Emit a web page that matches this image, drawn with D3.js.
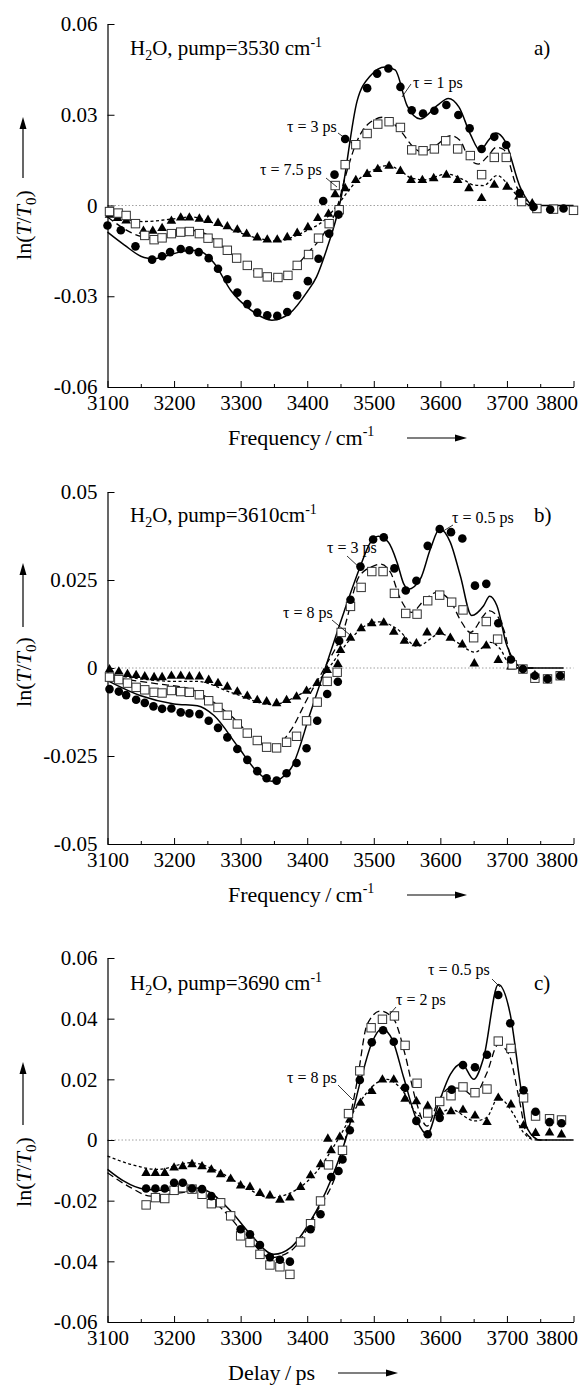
<!DOCTYPE html>
<html>
<head>
<meta charset="utf-8">
<script src="https://cdn.jsdelivr.net/npm/d3@7"></script>
<style>
body { margin: 0; background: #fff; }
svg text { font-family: "Liberation Serif", "Times New Roman", serif; fill: #000; }
</style>
</head>
<body>
<svg id="chart"></svg>
<script>
const WIDTH = 585;
const HEIGHT = 1387;
const X_LEFT = 107.5;
const X_RIGHT = 573.5;

// shared frequency axis
var freqTicks = [3100, 3200, 3300, 3400, 3500, 3600, 3700, 3800];
var freqMinor = [3150, 3250, 3350, 3450, 3550, 3650, 3750];

// ---- panel a) pump 3530 ----
var aTicks = [0.06, 0.03, 0, -0.03, -0.06];
var aTickLabels = ["0.06", "0.03", "0", "-0.03", "-0.06"];
var aCircles = [[3100,-0.0066],[3120,-0.0082],[3142,-0.0135],[3167,-0.0179],[3182,-0.0168],[3194,-0.0154],[3210,-0.0144],[3223,-0.0148],[3237,-0.0154],[3252,-0.0174],[3266,-0.0209],[3280,-0.0244],[3295,-0.0288],[3310,-0.0326],[3325,-0.0354],[3340,-0.0363],[3355,-0.0365],[3370,-0.0352],[3385,-0.0297],[3401,-0.0250],[3417,-0.0176],[3424,0.0015],[3433,-0.0093],[3441,0.0102],[3447,-0.0030],[3457,0.0220],[3490,0.0388],[3505,0.0436],[3522,0.0453],[3540,0.0392],[3557,0.0315],[3574,0.0304],[3591,0.0313],[3609,0.0332],[3627,0.0299],[3644,0.0255],[3662,0.0187],[3681,0.0227],[3699,0.0200],[3719,0.0041],[3740,-0.0005],[3765,-0.0013],[3785,-0.0010]];
var aSquares = [[3103,-0.0020],[3116,-0.0025],[3128,-0.0033],[3142,-0.0060],[3156,-0.0099],[3170,-0.0113],[3182,-0.0107],[3196,-0.0093],[3210,-0.0088],[3223,-0.0086],[3238,-0.0093],[3251,-0.0108],[3266,-0.0124],[3280,-0.0148],[3294,-0.0174],[3310,-0.0198],[3326,-0.0223],[3340,-0.0236],[3356,-0.0238],[3371,-0.0231],[3385,-0.0198],[3402,-0.0162],[3417,-0.0108],[3433,-0.0060],[3442,0.0066],[3448,-0.0014],[3457,0.0135],[3473,0.0201],[3490,0.0238],[3506,0.0269],[3523,0.0277],[3540,0.0258],[3557,0.0184],[3574,0.0181],[3591,0.0187],[3608,0.0214],[3626,0.0187],[3645,0.0165],[3662,0.0102],[3681,0.0159],[3699,0.0159],[3722,0.0013],[3745,-0.0010],[3770,-0.0012],[3800,-0.0016]];
var aTriangles = [[3103,-0.0033],[3115,-0.0044],[3128,-0.0052],[3154,-0.0086],[3168,-0.0086],[3182,-0.0077],[3196,-0.0053],[3210,-0.0042],[3223,-0.0042],[3238,-0.0046],[3251,-0.0050],[3266,-0.0060],[3280,-0.0071],[3295,-0.0082],[3309,-0.0096],[3325,-0.0108],[3340,-0.0115],[3355,-0.0115],[3370,-0.0107],[3385,-0.0093],[3401,-0.0074],[3416,-0.0044],[3432,-0.0030],[3442,0.0035],[3457,0.0055],[3473,0.0082],[3490,0.0102],[3506,0.0118],[3523,0.0129],[3540,0.0112],[3556,0.0082],[3573,0.0082],[3590,0.0088],[3609,0.0099],[3626,0.0082],[3643,0.0055],[3662,0.0022],[3681,0.0066],[3700,0.0060],[3718,0.0027],[3738,0.0005]];
var aFitSolid = [[3100,-0.0088],[3125,-0.0130],[3155,-0.0172],[3170,-0.0176],[3195,-0.0162],[3224,-0.0148],[3240,-0.0152],[3260,-0.0190],[3285,-0.0280],[3315,-0.0345],[3347,-0.0379],[3374,-0.0356],[3400,-0.0285],[3414,-0.0236],[3430,-0.0140],[3444,-0.0039],[3450,0.0016],[3475,0.0346],[3495,0.0429],[3517,0.0458],[3532,0.0448],[3550,0.0330],[3570,0.0286],[3595,0.0330],[3612,0.0354],[3628,0.0325],[3645,0.0236],[3660,0.0181],[3672,0.0215],[3684,0.0240],[3697,0.0214],[3720,0.0060],[3740,0],[3800,0]];
var aFitDash = [[3100,-0.0038],[3150,-0.0102],[3165,-0.0107],[3195,-0.0090],[3225,-0.0082],[3245,-0.0091],[3285,-0.0159],[3315,-0.0209],[3347,-0.0242],[3374,-0.0220],[3400,-0.0159],[3425,-0.0093],[3445,-0.0006],[3457,0.0093],[3475,0.0214],[3492,0.0270],[3515,0.0292],[3540,0.0247],[3560,0.0192],[3572,0.0176],[3595,0.0201],[3615,0.0231],[3630,0.0214],[3642,0.0159],[3657,0.0137],[3672,0.0165],[3684,0.0192],[3695,0.0185],[3715,0.0060],[3740,0]];
var aFitDot = [[3100,-0.0027],[3154,-0.0053],[3200,-0.0044],[3225,-0.0038],[3275,-0.0071],[3320,-0.0105],[3355,-0.0118],[3385,-0.0098],[3400,-0.0082],[3425,-0.0050],[3445,0],[3475,0.0082],[3500,0.0118],[3520,0.0132],[3540,0.0115],[3555,0.0092],[3575,0.0085],[3610,0.0104],[3635,0.0085],[3650,0.0068],[3665,0.0066],[3685,0.0099],[3705,0.0060],[3720,0.0020],[3735,0]];

// ---- panel b) pump 3610 ----
var bTicks = [0.05, 0.025, 0, -0.025, -0.05];
var bTickLabels = ["0.05", "0.025", "0", "-0.025", "-0.05"];
var bCircles = [[3103,-0.0060],[3117,-0.0067],[3128,-0.0077],[3143,-0.0090],[3156,-0.0099],[3169,-0.0109],[3182,-0.0116],[3196,-0.0115],[3210,-0.0126],[3223,-0.0129],[3238,-0.0131],[3252,-0.0150],[3266,-0.0170],[3280,-0.0197],[3295,-0.0230],[3310,-0.0261],[3325,-0.0293],[3339,-0.0313],[3354,-0.0320],[3369,-0.0299],[3384,-0.0270],[3399,-0.0228],[3415,-0.0150],[3430,-0.0074],[3446,-0.0039],[3448,0.0077],[3465,0.0194],[3480,0.0288],[3499,0.0365],[3515,0.0371],[3531,0.0283],[3548,0.0220],[3564,0.0248],[3581,0.0347],[3599,0.0395],[3616,0.0386],[3633,0.0368],[3652,0.0234],[3669,0.0239],[3687,0.0127],[3706,0.0024],[3724,-0.0003],[3742,-0.0022],[3761,-0.0031],[3780,-0.0022]];
var bSquares = [[3103,-0.0026],[3117,-0.0033],[3130,-0.0043],[3143,-0.0055],[3156,-0.0062],[3170,-0.0069],[3182,-0.0071],[3196,-0.0064],[3210,-0.0067],[3223,-0.0069],[3238,-0.0076],[3252,-0.0093],[3266,-0.0112],[3280,-0.0134],[3295,-0.0159],[3310,-0.0185],[3325,-0.0206],[3339,-0.0225],[3354,-0.0227],[3369,-0.0211],[3384,-0.0194],[3399,-0.0150],[3415,-0.0097],[3430,-0.0038],[3445,-0.0012],[3451,0.0101],[3465,0.0175],[3481,0.0229],[3497,0.0274],[3514,0.0274],[3531,0.0212],[3548,0.0155],[3565,0.0153],[3581,0.0191],[3599,0.0207],[3617,0.0187],[3634,0.0165],[3650,0.0086],[3669,0.0132],[3686,0.0082],[3708,0.0009],[3724,-0.0003],[3742,-0.0029],[3761,-0.0031],[3780,-0.0022]];
var bTriangles = [[3103,-0.0006],[3117,-0.0012],[3130,-0.0019],[3143,-0.0022],[3156,-0.0026],[3170,-0.0028],[3182,-0.0028],[3196,-0.0024],[3210,-0.0024],[3223,-0.0026],[3238,-0.0026],[3252,-0.0036],[3266,-0.0045],[3280,-0.0055],[3295,-0.0069],[3310,-0.0081],[3325,-0.0093],[3339,-0.0097],[3354,-0.0102],[3369,-0.0093],[3384,-0.0083],[3399,-0.0067],[3415,-0.0045],[3430,-0.0008],[3446,0.0009],[3450,0.0049],[3465,0.0084],[3481,0.0111],[3497,0.0125],[3515,0.0127],[3530,0.0101],[3546,0.0075],[3564,0.0068],[3580,0.0099],[3599,0.0101],[3615,0.0084],[3633,0.0065],[3651,0.0011],[3669,0.0062],[3687,0.0021],[3706,0.0002],[3742,-0.0022]];
var bFitSolid = [[3100,-0.0036],[3150,-0.0079],[3200,-0.0102],[3235,-0.0107],[3260,-0.0135],[3295,-0.0221],[3325,-0.0295],[3347,-0.0322],[3375,-0.0287],[3405,-0.0126],[3425,-0.0012],[3455,0.0158],[3480,0.0290],[3495,0.0357],[3507,0.0374],[3522,0.0357],[3535,0.0300],[3545,0.0239],[3552,0.0224],[3570,0.0253],[3585,0.0338],[3599,0.0395],[3615,0.0357],[3630,0.0262],[3647,0.0149],[3665,0.0177],[3674,0.0204],[3685,0.0177],[3700,0.0063],[3725,0],[3785,0]];
var bFitDash = [[3100,-0.0026],[3175,-0.0045],[3225,-0.0060],[3285,-0.0135],[3335,-0.0221],[3347,-0.0225],[3375,-0.0178],[3400,-0.0088],[3425,-0.0003],[3455,0.0110],[3478,0.0260],[3500,0.0290],[3510,0.0295],[3525,0.0272],[3540,0.0196],[3557,0.0158],[3575,0.0191],[3595,0.0215],[3615,0.0190],[3632,0.0130],[3645,0.0101],[3665,0.0149],[3672,0.0163],[3685,0.0149],[3695,0.0110],[3712,0],[3740,0]];
var bFitDot = [[3100,-0.0017],[3150,-0.0031],[3200,-0.0038],[3235,-0.0038],[3285,-0.0069],[3347,-0.0104],[3385,-0.0079],[3415,-0.0041],[3435,0.0007],[3465,0.0082],[3500,0.0130],[3510,0.0131],[3535,0.0111],[3565,0.0062],[3600,0.0097],[3625,0.0073],[3652,0.0045],[3675,0.0073],[3690,0.0054],[3705,0.0007],[3720,0]];

// ---- panel c) pump 3690 ----
var cTicks = [0.06, 0.04, 0.02, 0, -0.02, -0.04, -0.06];
var cTickLabels = ["0.06", "0.04", "0.02", "0", "-0.02", "-0.04", "-0.06"];
var cCircles = [[3158,-0.0160],[3172,-0.0160],[3186,-0.0160],[3200,-0.0141],[3213,-0.0141],[3227,-0.0160],[3242,-0.0162],[3256,-0.0185],[3300,-0.0294],[3314,-0.0311],[3329,-0.0346],[3344,-0.0386],[3359,-0.0395],[3374,-0.0401],[3405,-0.0294],[3420,-0.0245],[3436,-0.0122],[3447,-0.0102],[3453,-0.0064],[3464,0.0032],[3479,0.0198],[3497,0.0322],[3514,0.0362],[3530,0.0324],[3547,0.0172],[3564,0.0063],[3581,0.0019],[3599,0.0073],[3617,0.0166],[3634,0.0247],[3652,0.0240],[3670,0.0281],[3687,0.0478],[3705,0.0385],[3725,0.0164],[3743,0.0093],[3764,0.0059],[3782,0.0055]];
var cSquares = [[3158,-0.0214],[3172,-0.0190],[3186,-0.0193],[3200,-0.0166],[3213,-0.0157],[3227,-0.0162],[3242,-0.0179],[3256,-0.0210],[3270,-0.0207],[3285,-0.0250],[3300,-0.0316],[3314,-0.0338],[3329,-0.0377],[3344,-0.0412],[3359,-0.0418],[3374,-0.0443],[3390,-0.0336],[3405,-0.0276],[3420,-0.0201],[3432,-0.0082],[3453,-0.0034],[3462,0.0087],[3479,0.0228],[3496,0.0370],[3513,0.0398],[3531,0.0409],[3547,0.0312],[3565,0.0187],[3581,0.0089],[3599,0.0127],[3616,0.0146],[3634,0.0175],[3652,0.0156],[3670,0.0168],[3687,0.0326],[3706,0.0302],[3725,0.0139],[3743,0.0079],[3764,0.0070],[3782,0.0066]];
var cTriangles = [[3158,-0.0111],[3172,-0.0111],[3186,-0.0111],[3200,-0.0093],[3213,-0.0089],[3227,-0.0082],[3242,-0.0089],[3256,-0.0100],[3270,-0.0115],[3285,-0.0130],[3300,-0.0152],[3314,-0.0157],[3329,-0.0177],[3344,-0.0185],[3359,-0.0199],[3374,-0.0192],[3390,-0.0157],[3405,-0.0119],[3420,-0.0082],[3431,0.0002],[3436,-0.0036],[3449,0.0008],[3464,0.0065],[3480,0.0120],[3497,0.0159],[3513,0.0197],[3530,0.0197],[3547,0.0134],[3564,0.0125],[3581,0.0110],[3599,0.0091],[3616,0.0092],[3634,0.0097],[3652,0.0078],[3670,0.0057],[3687,0.0137],[3706,0.0115],[3725,0.0046],[3743,0.0021],[3764,0.0022],[3782,0.0016]];
var cFitSolid = [[3100,-0.0097],[3124,-0.0135],[3155,-0.0162],[3200,-0.0166],[3225,-0.0157],[3250,-0.0168],[3285,-0.0234],[3315,-0.0311],[3350,-0.0377],[3375,-0.0355],[3405,-0.0267],[3435,-0.0135],[3460,0.0019],[3480,0.0194],[3497,0.0320],[3512,0.0367],[3528,0.0330],[3545,0.0205],[3565,0.0063],[3580,0.0019],[3597,0.0118],[3615,0.0216],[3632,0.0252],[3650,0.0200],[3665,0.0271],[3687,0.0513],[3705,0.0414],[3720,0.0184],[3730,0.0040],[3750,0],[3800,0]];
var cFitDash = [[3100,-0.0108],[3135,-0.0157],[3165,-0.0185],[3200,-0.0177],[3235,-0.0168],[3275,-0.0234],[3315,-0.0333],[3345,-0.0388],[3375,-0.0366],[3415,-0.0234],[3445,-0.0102],[3475,0.0194],[3490,0.0381],[3510,0.0425],[3530,0.0398],[3547,0.0282],[3562,0.0140],[3580,0.0046],[3597,0.0129],[3615,0.0172],[3632,0.0170],[3650,0.0145],[3670,0.0222],[3687,0.0315],[3703,0.0282],[3718,0.0139],[3730,0.0019],[3745,0],[3760,0]];
var cFitDot = [[3100,-0.0053],[3135,-0.0080],[3175,-0.0097],[3225,-0.0075],[3265,-0.0102],[3300,-0.0146],[3345,-0.0190],[3385,-0.0162],[3415,-0.0102],[3445,-0.0003],[3475,0.0112],[3505,0.0189],[3520,0.0200],[3540,0.0172],[3570,0.0079],[3590,0.0080],[3615,0.0101],[3652,0.0063],[3670,0.0075],[3687,0.0139],[3710,0.0085],[3725,0.0024],[3740,0]];

var panels = [
    { top: 24, bottom: 387, domain: [-0.06, 0.06], ticks: aTicks, labels: aTickLabels,
      pump: "3530 ", letter: "a)", titleY: 55, xTitle: "Frequency\u2009/\u2009cm", xSup: true,
      xArrow: [407, 467], yMid: 225, yArrow: [178, 117],
      circles: aCircles, squares: aSquares, triangles: aTriangles,
      fits: [aFitDot, aFitDash, aFitSolid],
      notes: [["\u03c4 = 1 ps", 413, 88, [411, 84, 402, 97]],
              ["\u03c4 = 3 ps", 287, 132, [338, 133, 352, 143]],
              ["\u03c4 = 7.5 ps", 260, 175, [326, 178, 337, 187]]] },
    { top: 492, bottom: 844, domain: [-0.05, 0.05], ticks: bTicks, labels: bTickLabels,
      pump: "3610", letter: "b)", titleY: 522, xTitle: "Frequency\u2009/\u2009cm", xSup: true,
      xArrow: [407, 467], yMid: 672, yArrow: [627, 563],
      circles: bCircles, squares: bSquares, triangles: bTriangles,
      fits: [bFitDot, bFitDash, bFitSolid],
      notes: [["\u03c4 = 0.5 ps", 452, 523, [453, 525, 440, 533]],
              ["\u03c4 = 3 ps", 327, 553, [347, 556, 360, 568]],
              ["\u03c4 = 8 ps", 283, 618, [332, 620, 350, 635]]] },
    { top: 958, bottom: 1322, domain: [-0.06, 0.06], ticks: cTicks, labels: cTickLabels,
      pump: "3690 ", letter: "c)", titleY: 990, xTitle: "Delay\u2009/\u2009ps", xSup: false,
      xArrow: [338, 398], yMid: 1172, yArrow: [1125, 1062],
      circles: cCircles, squares: cSquares, triangles: cTriangles,
      fits: [cFitDot, cFitDash, cFitSolid],
      notes: [["\u03c4 = 0.5 ps", 428, 975, [492, 979, 500, 987]],
              ["\u03c4 = 2 ps", 396, 1005, [396, 1007, 390, 1014]],
              ["\u03c4 = 8 ps", 287, 1083, [338, 1085, 353, 1100]]] }
];

var fitStyles = [
    { dash: "3,2.5", width: 1.3 },
    { dash: "7,4", width: 1.3 },
    { dash: null, width: 1.5 }
];

var _svg = d3.select('#chart')
    .attr('width', WIDTH)
    .attr('height', HEIGHT);

var x = d3.scaleLinear()
    .domain([3100, 3800])
    .range([X_LEFT, X_RIGHT]);

var arrowHead = function (g, pts) {
    g.append('path')
        .attr('d', 'M' + pts.join('L') + 'Z')
        .attr('fill', '#000');
};

var drawPanel = function (p) {
    var y = d3.scaleLinear().domain(p.domain).range([p.bottom, p.top]);
    var g = _svg.append('g');

    // zero reference
    g.append('line')
        .attr('x1', X_LEFT).attr('x2', X_RIGHT)
        .attr('y1', y(0)).attr('y2', y(0))
        .attr('stroke', '#888').attr('stroke-width', 0.8)
        .attr('stroke-dasharray', '1.5,2');

    // axes
    var yAxis = g.append('g')
        .attr('transform', 'translate(' + X_LEFT + ',0)')
        .call(d3.axisLeft(y).tickValues(p.ticks)
            .tickFormat(function (d, i) { return p.labels[i]; })
            .tickSizeInner(-7).tickSizeOuter(0).tickPadding(10));

    var xAxis = g.append('g')
        .attr('transform', 'translate(0,' + p.bottom + ')')
        .call(d3.axisBottom(x).tickValues(freqTicks)
            .tickSizeInner(-6).tickSizeOuter(0).tickPadding(8)
            .tickFormat(d3.format('d')));

    g.append('g')
        .attr('transform', 'translate(0,' + p.bottom + ')')
        .call(d3.axisBottom(x).tickValues(freqMinor).tickSize(-3).tickFormat(''))
        .select('.domain').remove();

    g.selectAll('.domain').attr('stroke', '#000').attr('stroke-width', 1.2);
    g.selectAll('.tick line').attr('stroke', '#000');
    g.selectAll('.tick text').attr('font-size', 21)
        .attr('font-family', '"Liberation Serif", "Times New Roman", serif');
    xAxis.selectAll('.tick text').filter(function (d) { return d === 3800; })
        .attr('text-anchor', 'end').attr('x', 4);

    // fitted curves
    var line = d3.line()
        .x(function (d) { return x(d[0]); })
        .y(function (d) { return y(d[1]); })
        .curve(d3.curveMonotoneX);

    p.fits.forEach(function (fit, i) {
        g.append('path')
            .attr('d', line(fit))
            .attr('fill', 'none')
            .attr('stroke', '#000')
            .attr('stroke-width', fitStyles[i].width)
            .attr('stroke-dasharray', fitStyles[i].dash);
    });

    // measured points
    g.append('g').selectAll('path').data(p.triangles)
        .enter().append('path')
        .attr('d', d3.symbol(d3.symbolTriangle, 40))
        .attr('transform', function (d) { return 'translate(' + x(d[0]) + ',' + (y(d[1]) - 0.5) + ')'; })
        .attr('fill', '#000');

    g.append('g').selectAll('rect').data(p.squares)
        .enter().append('rect')
        .attr('x', function (d) { return x(d[0]) - 4.2; })
        .attr('y', function (d) { return y(d[1]) - 4.2; })
        .attr('width', 8.4).attr('height', 8.4)
        .attr('fill', '#fff').attr('stroke', '#333').attr('stroke-width', 1);

    g.append('g').selectAll('circle').data(p.circles)
        .enter().append('circle')
        .attr('r', 4.3)
        .attr('cx', function (d) { return x(d[0]); })
        .attr('cy', function (d) { return y(d[1]); })
        .attr('fill', '#000');

    // curve labels with leader lines
    p.notes.forEach(function (n) {
        g.append('text').attr('x', n[1]).attr('y', n[2])
            .attr('font-size', 16).text(n[0]);
        g.append('line')
            .attr('x1', n[3][0]).attr('y1', n[3][1])
            .attr('x2', n[3][2]).attr('y2', n[3][3])
            .attr('stroke', '#000').attr('stroke-width', 0.8);
    });

    // title inside panel
    var t = g.append('text').attr('x', 130).attr('y', p.titleY).attr('font-size', 21);
    t.append('tspan').text('H');
    t.append('tspan').attr('font-size', 14).attr('dy', 5).text('2');
    t.append('tspan').attr('dy', -5).text('O, pump=' + p.pump + 'cm');
    t.append('tspan').attr('font-size', 14).attr('dy', -8).text('-1');

    g.append('text').attr('x', 534).attr('y', p.titleY)
        .attr('font-size', 21).text(p.letter);

    // x title + arrow
    var xt = g.append('text').attr('x', 228).attr('y', p.bottom + 58).attr('font-size', 22);
    xt.append('tspan').text(p.xTitle);
    if (p.xSup) {
        xt.append('tspan').attr('font-size', 14).attr('dy', -9).text('-1');
    }
    var ay = p.bottom + 51;
    g.append('line')
        .attr('x1', p.xArrow[0]).attr('x2', p.xArrow[1] - 8)
        .attr('y1', ay).attr('y2', ay)
        .attr('stroke', '#000').attr('stroke-width', 1.2);
    arrowHead(g, [[p.xArrow[1], ay], [p.xArrow[1] - 12, ay - 3.5], [p.xArrow[1] - 12, ay + 3.5]]);

    // y title + arrow
    var yt = g.append('text')
        .attr('transform', 'translate(31,' + p.yMid + ') rotate(-90)')
        .attr('text-anchor', 'middle').attr('font-size', 22);
    yt.append('tspan').text('ln(');
    yt.append('tspan').attr('font-style', 'italic').text('T');
    yt.append('tspan').text('/');
    yt.append('tspan').attr('font-style', 'italic').text('T');
    yt.append('tspan').attr('font-size', 15).attr('dy', 5).text('0');
    yt.append('tspan').attr('dy', -5).text(')');

    g.append('line')
        .attr('x1', 23).attr('x2', 23)
        .attr('y1', p.yArrow[0]).attr('y2', p.yArrow[1] + 8)
        .attr('stroke', '#000').attr('stroke-width', 1.2);
    arrowHead(g, [[23, p.yArrow[1]], [19.5, p.yArrow[1] + 12], [26.5, p.yArrow[1] + 12]]);
};

panels.forEach(drawPanel);
</script>
</body>
</html>
